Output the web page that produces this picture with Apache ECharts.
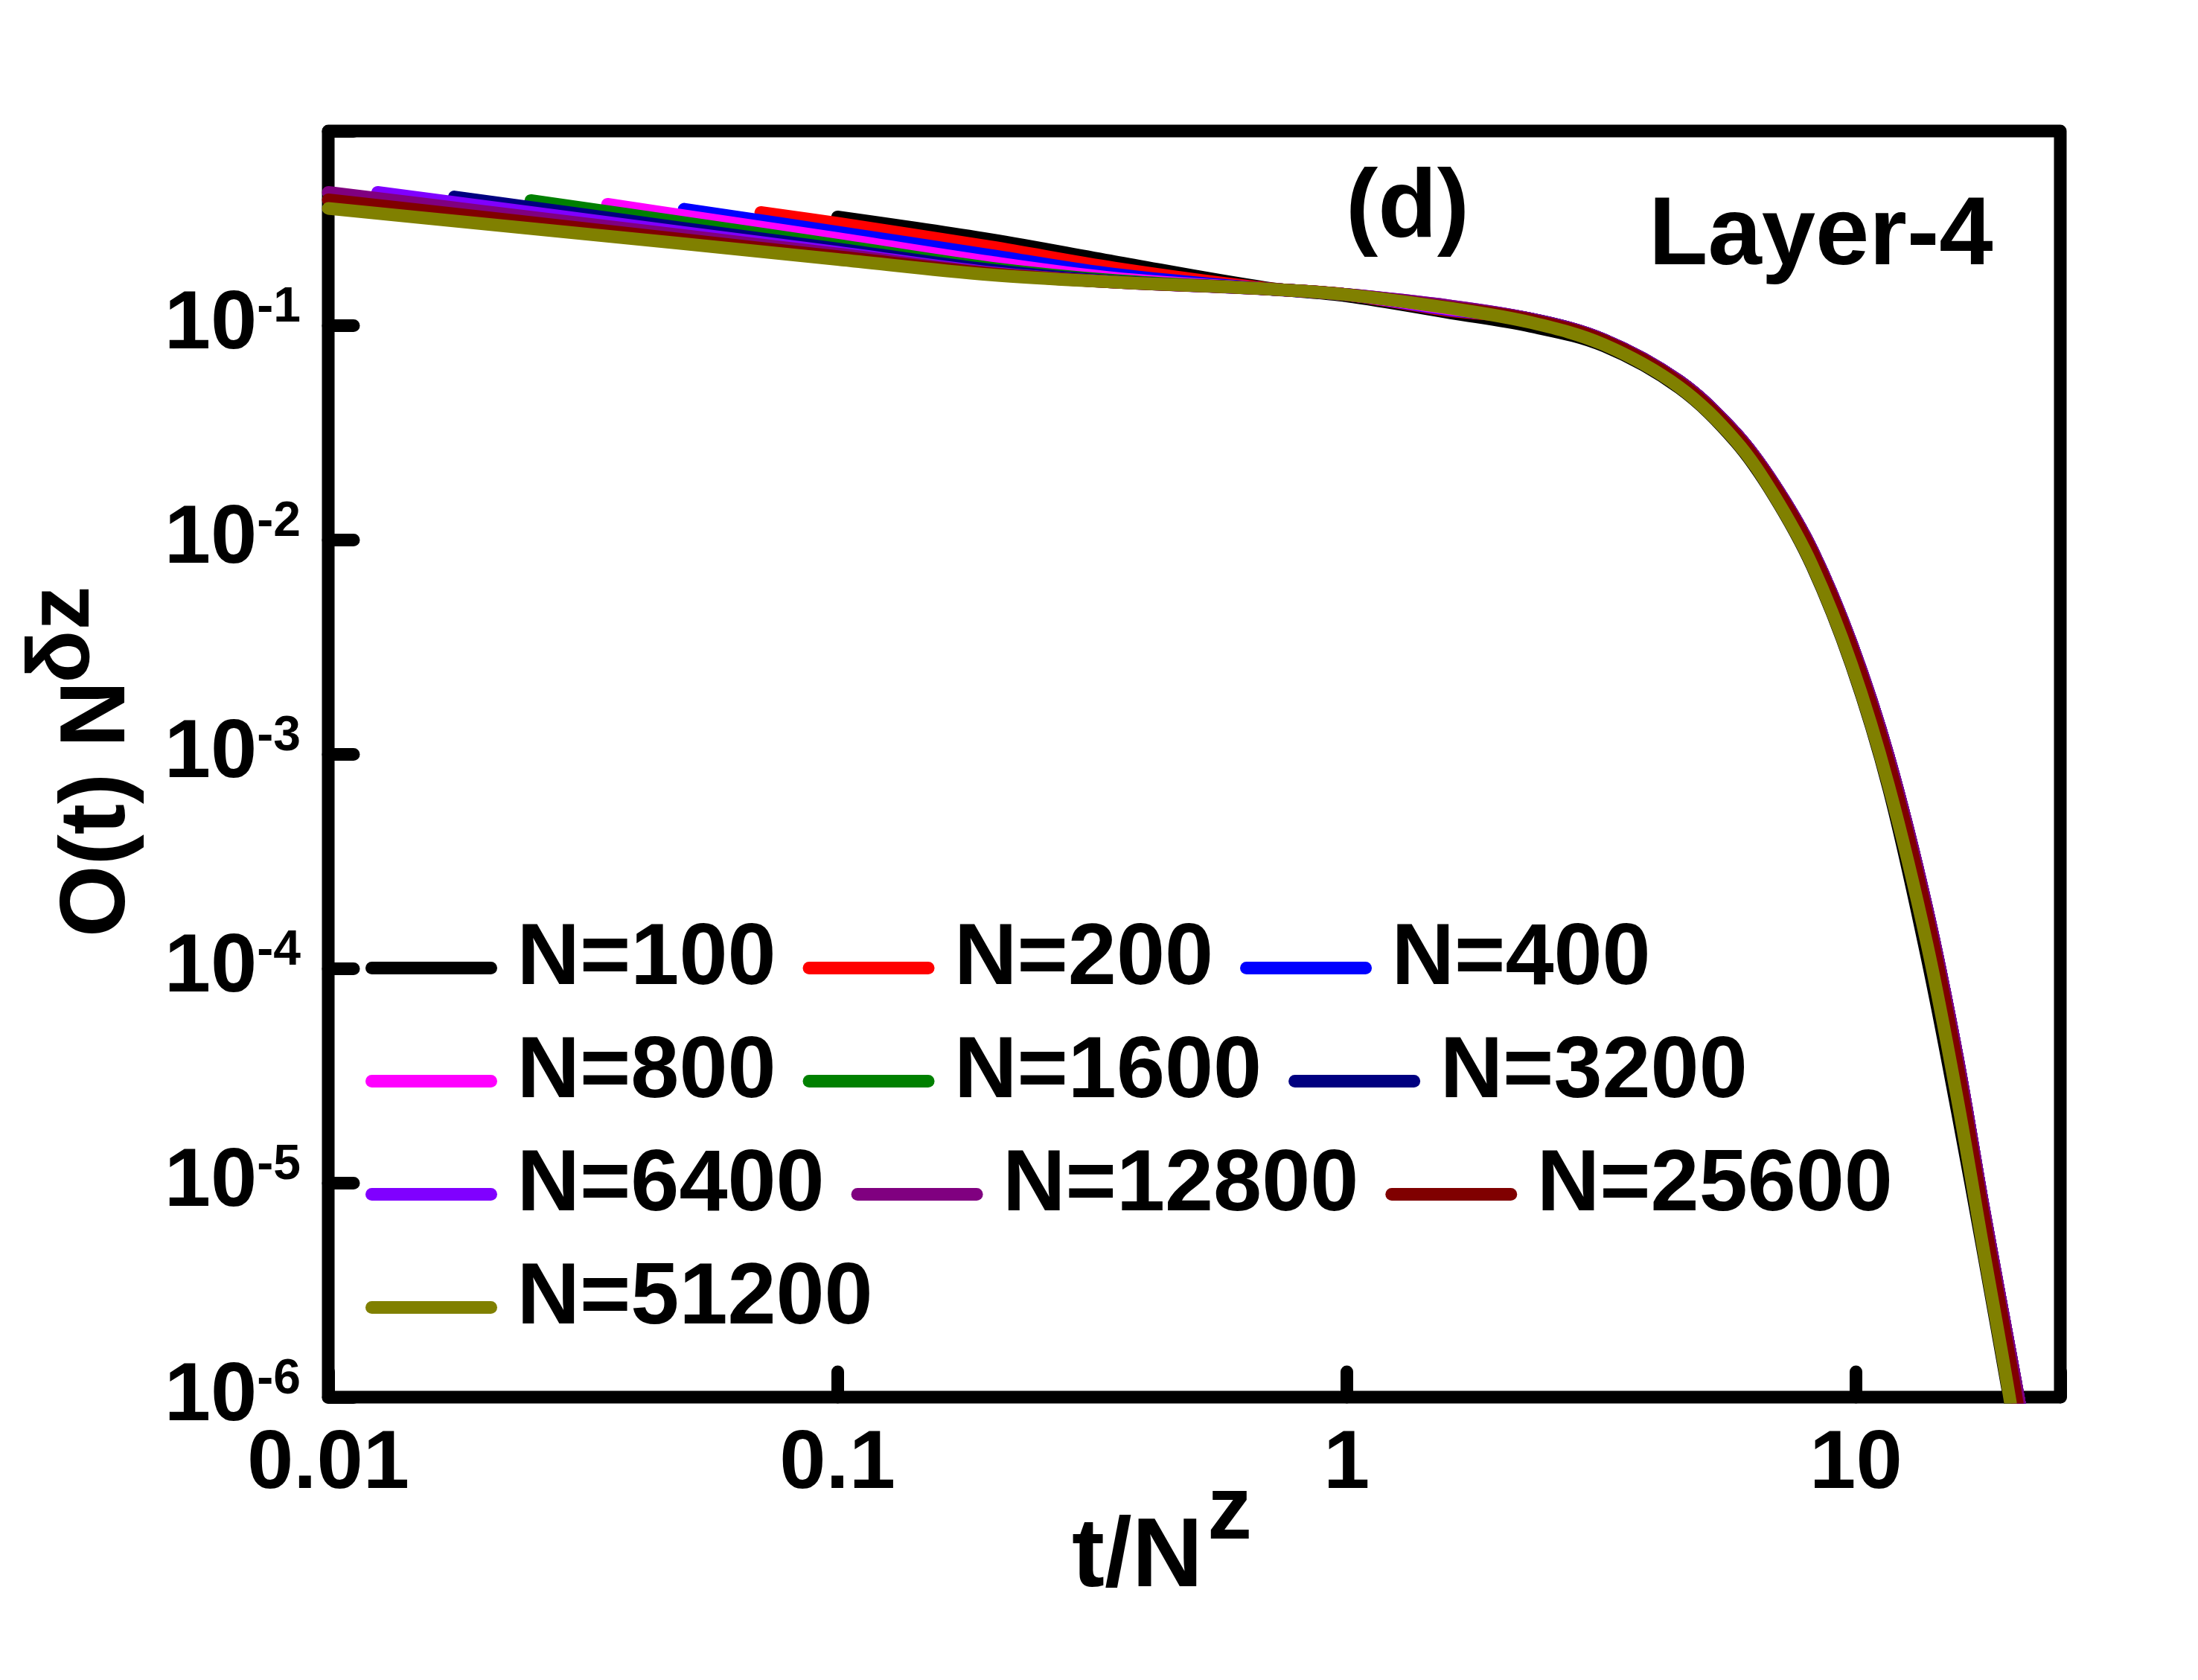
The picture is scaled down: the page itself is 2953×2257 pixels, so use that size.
<!DOCTYPE html>
<html>
<head>
<meta charset="utf-8">
<script src="https://cdn.jsdelivr.net/npm/echarts@6/dist/echarts.min.js"></script>
<style>
  html, body { margin: 0; padding: 0; background: #fff; }
  #chart { width: 2953px; height: 2257px; }
</style>
</head>
<body>
<div id="chart"></div>
<script>
// scaled time t/N^z for each system size, and O(t) N^(delta z)
var names = ['N=100', 'N=200', 'N=400', 'N=800', 'N=1600', 'N=3200', 'N=6400', 'N=12800', 'N=25600', 'N=51200']
var colors = ['#000000', '#FF0000', '#0000FF', '#FF00FF', '#008000', '#000080', '#8000FF', '#800080', '#800000', '#808000']

// common tail times (curves collapse here)
var tTail = [1, 1.6, 2.3, 3.2, 4.5, 5.8, 6.9, 8.2, 9.8, 11.6, 13.8, 15.8, 17.8, 20.1, 21.2]

var t100 = [0.1, 0.2, 0.35, 0.69, 1, 1.6, 2.3, 3.2, 4.5, 5.8, 6.9, 8.2, 9.8, 11.6, 13.8, 15.8, 17.8, 20.1, 20.5]
var v100 = [0.32, 0.251, 0.198, 0.150, 0.137, 0.1143, 0.0989, 0.0801, 0.0510, 0.0287, 0.01604, 0.00755, 0.00260, 6.9e-4, 1.12e-4, 2.18e-5, 4.7e-6, 9.3e-7, 7.0e-7]

var t200 = [0.0707, 0.1, 0.2, 0.35, 0.69].concat(tTail)
var v200 = [0.336, 0.299, 0.232, 0.185, 0.149, 0.139, 0.117, 0.107, 0.0856, 0.0549, 0.0315, 0.0182, 0.00897, 0.00328, 9.64e-4, 1.88e-4, 3.91e-5, 7.66e-6, 1.6e-6, 8.0e-7]

var t400 = [0.05, 0.1, 0.2, 0.35, 0.69].concat(tTail)
var v400 = [0.348, 0.272, 0.212, 0.173, 0.148, 0.139, 0.118, 0.107, 0.0856, 0.0549, 0.0315, 0.0182, 0.00897, 0.00328, 9.64e-4, 1.88e-4, 3.91e-5, 7.66e-6, 1.6e-6, 8.0e-7]

var t800 = [0.03536, 0.05, 0.1, 0.2, 0.35, 0.69].concat(tTail)
var v800 = [0.367, 0.324, 0.254, 0.197, 0.166, 0.148, 0.139, 0.119, 0.107, 0.0856, 0.0549, 0.0315, 0.0182, 0.00897, 0.00328, 9.64e-4, 1.88e-4, 3.91e-5, 7.66e-6, 1.6e-6, 8.0e-7]

var t1600 = [0.025, 0.05, 0.1, 0.2, 0.35, 0.69].concat(tTail)
var v1600 = [0.382, 0.301, 0.2365, 0.185, 0.162, 0.148, 0.139, 0.121, 0.107, 0.0856, 0.0549, 0.0315, 0.0182, 0.00897, 0.00328, 9.64e-4, 1.88e-4, 3.91e-5, 7.66e-6, 1.6e-6, 8.0e-7]

var t3200 = [0.01768, 0.025, 0.05, 0.1, 0.2, 0.35, 0.69].concat(tTail)
var v3200 = [0.397, 0.355, 0.283, 0.227, 0.181, 0.160, 0.148, 0.139, 0.122, 0.107, 0.0856, 0.0549, 0.0315, 0.0182, 0.00897, 0.00328, 9.64e-4, 1.88e-4, 3.91e-5, 7.66e-6, 1.6e-6, 8.0e-7]

var t6400 = [0.0125, 0.025, 0.05, 0.1, 0.2, 0.35, 0.69].concat(tTail)
var v6400 = [0.417, 0.336, 0.271, 0.219, 0.176, 0.159, 0.148, 0.139, 0.123, 0.107, 0.0856, 0.0549, 0.0315, 0.0182, 0.00897, 0.00328, 9.64e-4, 1.88e-4, 3.91e-5, 7.66e-6, 1.6e-6, 8.0e-7]

var t12800 = [0.01, 0.02, 0.05, 0.1, 0.2, 0.35, 0.69].concat(tTail)
var v12800 = [0.417, 0.341, 0.262, 0.215, 0.175, 0.159, 0.148, 0.139, 0.123, 0.107, 0.0856, 0.0549, 0.0315, 0.0182, 0.00897, 0.00328, 9.64e-4, 1.88e-4, 3.91e-5, 7.66e-6, 1.6e-6, 8.0e-7]

var t25600 = [0.01, 0.02, 0.05, 0.1, 0.2, 0.35, 0.69, 1, 1.6, 2.3, 3.2, 4.5, 5.8, 6.9, 8.2, 9.8, 11.6, 13.8, 15.8, 17.8, 20.1, 21.0]
var v25600 = [0.385, 0.32, 0.251, 0.209, 0.174, 0.159, 0.148, 0.139, 0.121, 0.106, 0.0846, 0.0540, 0.0309, 0.01784, 0.00873, 0.00316, 9.06e-4, 1.75e-4, 3.57e-5, 7.0e-6, 1.45e-6, 7.8e-7]

var t51200 = [0.01, 0.02, 0.05, 0.1, 0.2, 0.35, 0.69, 1, 1.6, 2.3, 3.2, 4.5, 5.8, 6.9, 8.2, 9.8, 11.6, 13.8, 15.8, 17.8, 20.1, 20.6]
var v51200 = [0.351, 0.298, 0.240, 0.203, 0.172, 0.159, 0.148, 0.139, 0.120, 0.103, 0.0812, 0.0515, 0.0290, 0.01615, 0.00762, 0.00263, 7.1e-4, 1.29e-4, 2.5e-5, 4.9e-6, 9.5e-7, 6.0e-7]

var tList = [t100, t200, t400, t800, t1600, t3200, t6400, t12800, t25600, t51200]
var vList = [v100, v200, v400, v800, v1600, v3200, v6400, v12800, v25600, v51200]

var FONT = "'Liberation Sans', Arial, sans-serif"

function isDecade (v) {
  var l = Math.log10(v)
  return Math.abs(l - Math.round(l)) < 1e-6
}

var series = []
for (var i = 0; i < names.length; i++) {
  var pts = []
  for (var j = 0; j < tList[i].length; j++) {
    pts.push([tList[i][j], vList[i][j]])
  }
  series.push({
    name: names[i],
    type: 'line',
    data: pts,
    showSymbol: false,
    symbol: 'circle',
    smooth: 0.35,
    clip: true,
    lineStyle: { width: 17, color: colors[i], cap: 'round', join: 'round' },
    itemStyle: { color: colors[i] }
  })
}

var myChart = echarts.init(document.getElementById('chart'))
myChart.setOption({
  animation: false,
  backgroundColor: '#fff',
  grid: {
    left: 441,
    top: 176,
    right: 185,
    bottom: 380,
    outerBoundsMode: 'none'
  },
  legend: {
    data: names,
    left: 491,
    top: 1231,
    width: 2200,
    padding: 0,
    orient: 'horizontal',
    itemWidth: 160,
    itemHeight: 17,
    itemGap: 13,
    selectedMode: false,
    lineStyle: { width: 17, cap: 'round' },
    itemStyle: { opacity: 0 },
    formatter: function (name) {
      return '{n|' + name + '}'
    },
    textStyle: {
      color: '#000',
      rich: {
        n: {
          color: '#000',
          fontSize: 117,
          fontWeight: 'bold',
          fontFamily: FONT,
          lineHeight: 117,
          padding: [0, 23, 22, 30]
        }
      }
    }
  },
  xAxis: {
    type: 'log',
    min: 0.01,
    max: 25.2,
    logBase: 10,
    axisLine: { show: false },
    splitLine: { show: false },
    minorTick: { show: false },
    axisTick: {
      inside: true,
      length: 34,
      lineStyle: { width: 17, color: '#000', cap: 'round' }
    },
    axisLabel: {
      margin: 35,
      color: '#000',
      fontSize: 112,
      lineHeight: 112,
      fontWeight: 'bold',
      fontFamily: FONT,
      formatter: function (v) {
        if (!isDecade(v)) return ''
        return String(Number(v.toPrecision(6)))
      }
    }
  },
  yAxis: {
    type: 'log',
    min: 1e-6,
    max: 0.806,
    logBase: 10,
    axisLine: { show: false },
    splitLine: { show: false },
    minorTick: { show: false },
    axisTick: {
      inside: true,
      length: 34,
      lineStyle: { width: 17, color: '#000', cap: 'round' }
    },
    axisLabel: {
      margin: 37,
      color: '#000',
      formatter: function (v) {
        if (!isDecade(v)) return ''
        return '{b|10}{s|' + Math.round(Math.log10(v)) + '}'
      },
      rich: {
        b: { fontSize: 112, lineHeight: 112, fontWeight: 'bold', fontFamily: FONT, color: '#000', padding: [26, 0, 26, 0] },
        s: { fontSize: 66, lineHeight: 66, fontWeight: 'bold', fontFamily: FONT, color: '#000', verticalAlign: 'top' }
      }
    }
  },
  graphic: [
    {
      type: 'rect',
      z: 0,
      silent: true,
      shape: { x: 441, y: 176, width: 2327, height: 1701 },
      style: { fill: 'none', stroke: '#000', lineWidth: 17, lineJoin: 'round' }
    },
    {
      type: 'text', x: 1808, y: 282, z: 10,
      style: { text: '(d)', fill: '#000', font: 'bold 130px ' + FONT, align: 'left', verticalAlign: 'middle' }
    },
    {
      type: 'text', x: 2215, y: 319, z: 10,
      style: { text: 'Layer-4', fill: '#000', font: 'bold 130px ' + FONT, align: 'left', verticalAlign: 'middle' }
    },
    {
      type: 'text', x: 1440, y: 2095,
      style: { text: 't/N', fill: '#000', font: 'bold 132px ' + FONT, align: 'left', verticalAlign: 'middle' }
    },
    {
      type: 'text', x: 1622, y: 2034,
      style: { text: 'z', fill: '#000', font: 'bold 120px ' + FONT, align: 'left', verticalAlign: 'middle' }
    },
    {
      type: 'group',
      x: 171,
      y: 1254,
      rotation: Math.PI / 2,
      children: [
        {
          type: 'text', x: -5, y: -38,
          style: { text: 'O(t) N', fill: '#000', font: 'bold 124px ' + FONT, align: 'left', verticalAlign: 'middle' }
        },
        {
          type: 'text', x: 336, y: -85,
          style: { text: 'δz', fill: '#000', font: 'bold 118px ' + FONT, align: 'left', verticalAlign: 'middle' }
        }
      ]
    }
  ],
  series: series
})
</script>
</body>
</html>
